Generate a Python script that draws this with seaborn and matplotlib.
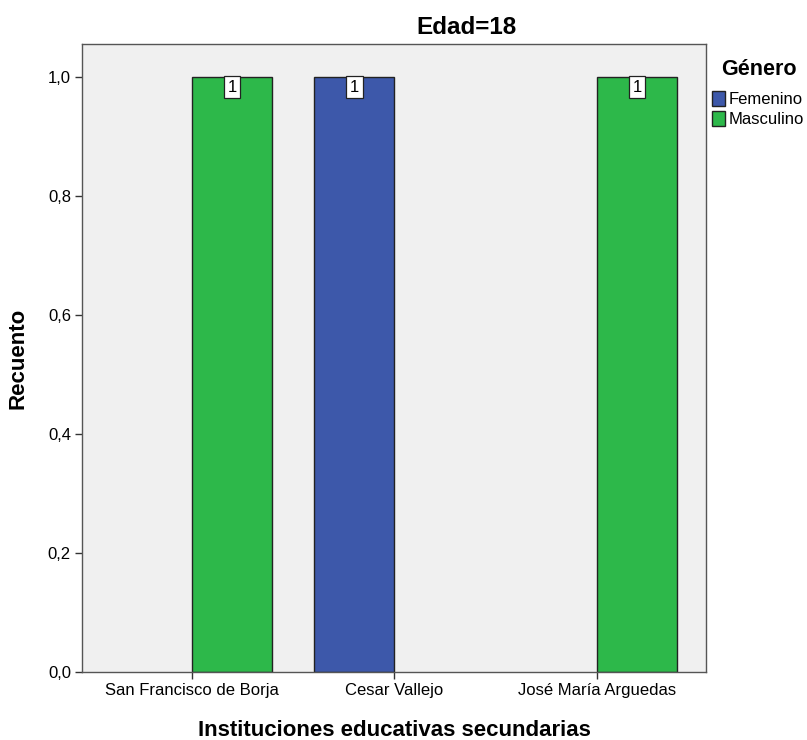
import matplotlib
matplotlib.use('Agg')
import matplotlib.pyplot as plt
import matplotlib.ticker as mticker
import pandas as pd
import seaborn as sns

# datos
instituciones = ['San Francisco de Borja', 'Cesar Vallejo', 'José María Arguedas']
genero_orden = ['Femenino', 'Masculino']
fila_institucion = ['San Francisco de Borja', 'Cesar Vallejo', 'José María Arguedas']
fila_genero = ['Masculino', 'Femenino', 'Masculino']
recuento = [1, 1, 1]
y_ticks = [0.0, 0.2, 0.4, 0.6, 0.8, 1.0]

COLORES = {'Femenino': '#3d58aa', 'Masculino': '#2db84a'}

sns.set_style('white')
plt.rcParams['font.family'] = ['Liberation Sans', 'DejaVu Sans']
plt.rcParams['text.color'] = 'black'
plt.rcParams['axes.labelcolor'] = 'black'
plt.rcParams['xtick.color'] = 'black'
plt.rcParams['ytick.color'] = 'black'

df = pd.DataFrame({
    'institucion': fila_institucion,
    'genero': fila_genero,
    'recuento': recuento,
})

fig = plt.figure(figsize=(8.07, 7.40), dpi=100)
ax = fig.add_axes([0.1016, 0.0919, 0.7732, 0.8486])
ax.set_facecolor('#f0f0f0')

sns.barplot(
    data=df, x='institucion', y='recuento', hue='genero',
    order=instituciones, hue_order=genero_orden, palette=COLORES,
    width=0.79, dodge=True, edgecolor='#222222', linewidth=1.0, saturation=1,
    errorbar=None, legend=True, ax=ax,
)

for p in ax.patches:
    h = p.get_height()
    if h != h or h <= 0:
        continue
    ax.annotate(
        f'{int(h)}', (p.get_x() + p.get_width() / 2, h),
        xytext=(0, -2.0), textcoords='offset points',
        ha='center', va='top', fontsize=12, color='black',
        bbox=dict(boxstyle='square,pad=0.22', fc='white', ec='#222222', lw=0.9),
    )

ax.set_xlim(-0.543, 2.538)
ax.set_ylim(0, 1.0555)
ax.set_yticks(y_ticks)
ax.yaxis.set_major_formatter(mticker.FuncFormatter(lambda v, _: f'{v:.1f}'.replace('.', ',')))
ax.tick_params(axis='both', direction='out', length=5, width=1, color='#333333',
               labelsize=12, pad=3, bottom=True, left=True)
for s in ax.spines.values():
    s.set_color('#555555')
    s.set_linewidth(1.0)

# el título de SPSS queda desplazado a la derecha del centro del eje
ax.set_title('Edad=18', fontsize=17.5, fontweight='bold', pad=7, x=0.617)
ax.set_xlabel('Instituciones educativas secundarias', fontsize=16, fontweight='bold', labelpad=16)
ax.set_ylabel('Recuento', fontsize=16, fontweight='bold', labelpad=14)

leg = ax.legend(
    title='Género', loc='upper left', bbox_to_anchor=(1.005, 0.982),
    frameon=False, fontsize=12, title_fontproperties={'weight': 'bold', 'size': 15.5},
    handlelength=0.75, handleheight=1.0, handletextpad=0.25, labelspacing=0.25,
    borderaxespad=0, borderpad=0.2,
)
leg._legend_box.align = 'center'
leg._legend_box.sep = 8
for h in leg.legend_handles:
    h.set_edgecolor('#222222')

fig.savefig('out.png', dpi=100)
